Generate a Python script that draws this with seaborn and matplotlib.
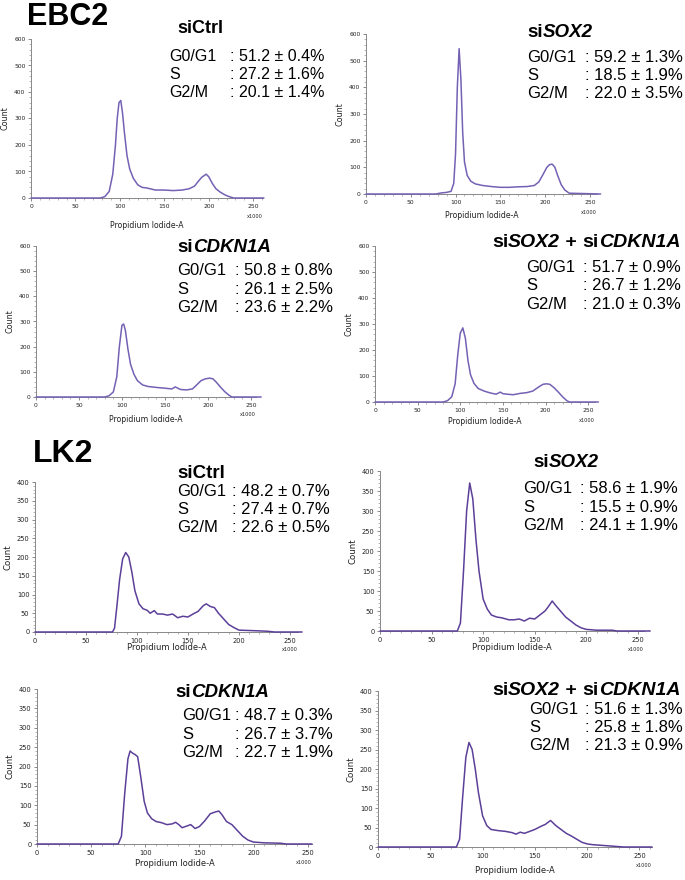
import numpy as np
import pandas as pd
import matplotlib
matplotlib.use("Agg")
import matplotlib.pyplot as plt
import seaborn as sns
from matplotlib.ticker import MultipleLocator

# Histogram traces (x = Propidium Iodide-A / 1000, y = Count)
ebc2_ctrl_x = [0, 78, 83, 88, 92, 95, 97, 99, 101, 103, 105, 108, 111, 115, 120, 125, 130, 140, 150, 160,
               170, 178, 184, 188, 192, 195, 197, 200, 204, 208, 213, 218, 223, 228, 262]
ebc2_ctrl_y = [0, 0, 5, 25, 90, 200, 300, 360, 368, 320, 250, 160, 110, 75, 50, 40, 38, 30, 30, 28,
               30, 35, 45, 62, 78, 85, 90, 80, 55, 35, 22, 12, 5, 0, 0]

ebc2_sox2_x = [0, 78, 84, 90, 95, 98, 100, 102, 104, 106, 108, 110, 113, 117, 122, 130, 140, 150, 160, 170,
               180, 188, 193, 198, 202, 205, 208, 211, 214, 218, 222, 227, 262]
ebc2_sox2_y = [0, 0, 4, 6, 10, 40, 150, 400, 545, 430, 230, 120, 70, 48, 38, 32, 28, 25, 25, 27,
               28, 32, 45, 75, 100, 110, 112, 100, 70, 35, 15, 3, 0]

ebc2_cdkn_x = [0, 80, 85, 90, 94, 97, 100, 102, 104, 107, 110, 114, 118, 124, 130, 140, 150, 158, 162, 168,
               175, 182, 187, 192, 197, 202, 206, 210, 215, 220, 225, 228, 262]
ebc2_cdkn_y = [0, 0, 5, 20, 80, 200, 285, 290, 265, 190, 130, 90, 65, 48, 42, 38, 35, 32, 40, 30,
               28, 32, 48, 65, 72, 75, 72, 58, 38, 20, 6, 0, 0]

ebc2_both_x = [0, 80, 85, 90, 94, 97, 100, 103, 106, 109, 112, 116, 121, 128, 135, 142, 147, 150, 155, 162,
               170, 178, 185, 192, 197, 201, 205, 210, 215, 220, 225, 228, 262]
ebc2_both_y = [0, 0, 5, 20, 70, 180, 265, 285, 245, 160, 105, 72, 52, 42, 35, 30, 38, 32, 30, 28,
               33, 36, 42, 58, 68, 70, 68, 55, 38, 20, 5, 0, 0]

lk2_ctrl_x = [0, 76, 78, 80, 83, 86, 89, 92, 95, 98, 102, 106, 110, 113, 117, 120, 125, 130, 135, 140,
              145, 150, 155, 160, 165, 168, 172, 176, 180, 185, 190, 195, 200, 210, 220, 228, 235, 262]
lk2_ctrl_y = [0, 0, 10, 60, 140, 195, 212, 200, 160, 110, 75, 62, 58, 50, 57, 48, 48, 45, 48, 38,
              42, 40, 48, 55, 70, 75, 68, 65, 50, 35, 20, 12, 5, 4, 3, 2, 0, 0]

lk2_sox2_x = [0, 75, 78, 81, 84, 87, 90, 93, 96, 100, 104, 108, 113, 118, 125, 130, 135, 140, 145, 150,
              155, 160, 163, 167, 170, 175, 180, 185, 190, 195, 200, 210, 225, 230, 262]
lk2_sox2_y = [0, 0, 20, 150, 300, 370, 330, 230, 150, 80, 55, 40, 35, 33, 28, 28, 30, 25, 32, 30,
              40, 50, 60, 75, 65, 50, 35, 25, 15, 8, 4, 2, 2, 0, 0]

lk2_cdkn_x = [0, 75, 78, 81, 84, 86, 88, 91, 93, 96, 99, 102, 106, 110, 115, 120, 125, 128, 131, 134,
              138, 142, 146, 150, 155, 160, 165, 168, 171, 175, 180, 185, 190, 195, 200, 210, 225, 230, 254]
lk2_cdkn_y = [0, 0, 20, 130, 220, 240, 235, 230, 225, 170, 110, 80, 65, 58, 55, 50, 52, 56, 50, 42,
              46, 50, 40, 45, 60, 78, 83, 85, 75, 58, 50, 35, 20, 10, 5, 3, 2, 0, 0]

lk2_both_x = [0, 75, 78, 81, 84, 87, 90, 93, 96, 100, 104, 108, 115, 122, 128, 132, 136, 140, 145, 150,
              155, 160, 165, 170, 175, 180, 185, 190, 195, 200, 205, 210, 215, 225, 235, 262]
lk2_both_y = [0, 0, 20, 130, 230, 268, 250, 200, 140, 80, 55, 45, 42, 40, 37, 33, 38, 35, 40, 45,
              52, 58, 68, 55, 45, 35, 28, 20, 12, 8, 6, 5, 4, 2, 0, 0]

# cell-cycle fractions (mean, sd in %)
phases = ["G0/G1", "S", "G2/M"]
ebc2_ctrl_stats = [(51.2, 0.4), (27.2, 1.6), (20.1, 1.4)]
ebc2_sox2_stats = [(59.2, 1.3), (18.5, 1.9), (22.0, 3.5)]
ebc2_cdkn_stats = [(50.8, 0.8), (26.1, 2.5), (23.6, 2.2)]
ebc2_both_stats = [(51.7, 0.9), (26.7, 1.2), (21.0, 0.3)]
lk2_ctrl_stats = [(48.2, 0.7), (27.4, 0.7), (22.6, 0.5)]
lk2_sox2_stats = [(58.6, 1.9), (15.5, 0.9), (24.1, 1.9)]
lk2_cdkn_stats = [(48.7, 0.3), (26.7, 3.7), (22.7, 1.9)]
lk2_both_stats = [(51.6, 1.3), (25.8, 1.8), (21.3, 0.9)]

# titles: (text, italic)
title_ctrl = [("siCtrl", False)]
title_sox2 = [("si", False), ("SOX2", True)]
title_cdkn = [("si", False), ("CDKN1A", True)]
title_both = [("si", False), ("SOX2", True), (" + ", False), ("si", False), ("CDKN1A", True)]

W, H = 685, 880
FONT = ["Liberation Sans", "DejaVu Sans"]

sns.set_style("ticks")
plt.rcParams["font.family"] = ["DejaVu Sans"]
plt.rcParams["text.color"] = "black"
plt.rcParams["axes.labelcolor"] = "#222222"
plt.rcParams["xtick.labelcolor"] = "#222222"
plt.rcParams["ytick.labelcolor"] = "#222222"

fig = plt.figure(figsize=(W / 100, H / 100), dpi=100)
renderer = fig.canvas.get_renderer()


def fx(px):
    return px / W


def fy(py):
    return 1 - py / H


def rich_title(x, y, pieces, size):
    for txt, ital in pieces:
        t = fig.text(fx(x), fy(y), txt, fontsize=size, fontweight="bold",
                     fontstyle="italic" if ital else "normal", family=FONT, va="baseline")
        x += t.get_window_extent(renderer).width


# layout: axes box in pixels (left, top, right, bottom), xmax, ymax, text positions
panels = [
    dict(x=ebc2_ctrl_x, y=ebc2_ctrl_y, box=(31, 39, 263, 198), xmax=261, ymax=600, cell="EBC2",
         title=title_ctrl, tpos=(177, 33), tsize=13, stats=ebc2_ctrl_stats,
         spos=(169, 230, 61, 18.2), ssize=11.5, xlab=28),
    dict(x=ebc2_sox2_x, y=ebc2_sox2_y, box=(366, 34, 597, 194), xmax=258, ymax=600, cell="EBC2",
         title=title_sox2, tpos=(527, 37), tsize=13.5, stats=ebc2_sox2_stats,
         spos=(527, 585, 62, 18), ssize=12, xlab=22),
    dict(x=ebc2_cdkn_x, y=ebc2_cdkn_y, box=(36, 246, 256, 397), xmax=256, ymax=600, cell="EBC2",
         title=title_cdkn, tpos=(177, 252), tsize=13.5, stats=ebc2_cdkn_stats,
         spos=(177, 235, 275, 18.5), ssize=12, xlab=22),
    dict(x=ebc2_both_x, y=ebc2_both_y, box=(375, 246, 595, 402), xmax=258, ymax=600, cell="EBC2",
         title=title_both, tpos=(492, 247), tsize=14, stats=ebc2_both_stats,
         spos=(526, 583, 272, 18.5), ssize=12, xlab=19),
    dict(x=lk2_ctrl_x, y=lk2_ctrl_y, box=(35, 482, 298, 632), xmax=258, ymax=400, cell="LK2",
         title=title_ctrl, tpos=(177, 478), tsize=13.5, stats=lk2_ctrl_stats,
         spos=(177, 232, 496, 18), ssize=12, xlab=16),
    dict(x=lk2_sox2_x, y=lk2_sox2_y, box=(380, 471, 644, 631), xmax=256, ymax=400, cell="LK2",
         title=title_sox2, tpos=(533, 467), tsize=13.5, stats=lk2_sox2_stats,
         spos=(523, 580, 493, 18.5), ssize=12, xlab=16),
    dict(x=lk2_cdkn_x, y=lk2_cdkn_y, box=(37, 689, 312, 844), xmax=254, ymax=400, cell="LK2",
         title=title_cdkn, tpos=(175, 697), tsize=13.5, stats=lk2_cdkn_stats,
         spos=(182, 235, 720, 18.5), ssize=12, xlab=19),
    dict(x=lk2_both_x, y=lk2_both_y, box=(378, 691, 652, 847), xmax=262, ymax=400, cell="LK2",
         title=title_both, tpos=(492, 695), tsize=14, stats=lk2_both_stats,
         spos=(529, 585, 714, 17.8), ssize=12, xlab=23),
]

for p in panels:
    l, t, r, b = p["box"]
    ax = fig.add_axes([fx(l), fy(b), (r - l) / W, (b - t) / H])
    ebc = p["cell"] == "EBC2"
    col = "#7461b4" if ebc else "#5c3f99"
    df = pd.DataFrame({"PI": p["x"], "Count": p["y"]})
    sns.lineplot(data=df, x="PI", y="Count", ax=ax, color=col, lw=1.1, sort=False,
                 estimator=None, clip_on=False, zorder=5)
    ax.set_xlim(0, p["xmax"])
    ax.set_ylim(0, p["ymax"])
    ax.xaxis.set_major_locator(MultipleLocator(50))
    ax.xaxis.set_minor_locator(MultipleLocator(10))
    ax.yaxis.set_major_locator(MultipleLocator(100 if ebc else 50))
    ax.yaxis.set_minor_locator(MultipleLocator(20 if ebc else 10))
    fs = 4.3 if ebc else 4.8
    ax.tick_params(which="major", length=2.5, width=0.6, color="#777777", labelsize=fs, pad=1.5)
    ax.tick_params(which="minor", length=1.3, width=0.5, color="#999999")
    sns.despine(ax=ax)
    for s in ("left", "bottom"):
        ax.spines[s].set_color("#888888")
        ax.spines[s].set_linewidth(0.7)
    ax.set_ylabel("Count", fontsize=5.8 if ebc else 6.2, labelpad=3)
    ax.set_xlabel("Propidium Iodide-A", fontsize=5.6 if ebc else 6.0, va="center")
    ax.xaxis.set_label_coords(0.5, -p["xlab"] / (b - t))
    ax.text(1.0, -0.1, "x1000", transform=ax.transAxes, fontsize=3.6, ha="right", va="top",
            color="#222222")
    ax.set_facecolor("none")

    rich_title(p["tpos"][0], p["tpos"][1], p["title"], p["tsize"])
    lx, vx, y0, dy = p["spos"]
    for i, (ph, (m, sd)) in enumerate(zip(phases, p["stats"])):
        fig.text(fx(lx), fy(y0 + i * dy), ph, fontsize=p["ssize"], family=FONT, va="baseline")
        fig.text(fx(vx), fy(y0 + i * dy), f": {m:.1f} \u00b1 {sd:.1f}%", fontsize=p["ssize"],
                 family=FONT, va="baseline")

fig.text(fx(27), fy(25), "EBC2", fontsize=22, fontweight="bold", family=FONT, va="baseline")
fig.text(fx(33), fy(462), "LK2", fontsize=23, fontweight="bold", family=FONT, va="baseline")

fig.savefig("out.png", dpi=100, facecolor="white")
